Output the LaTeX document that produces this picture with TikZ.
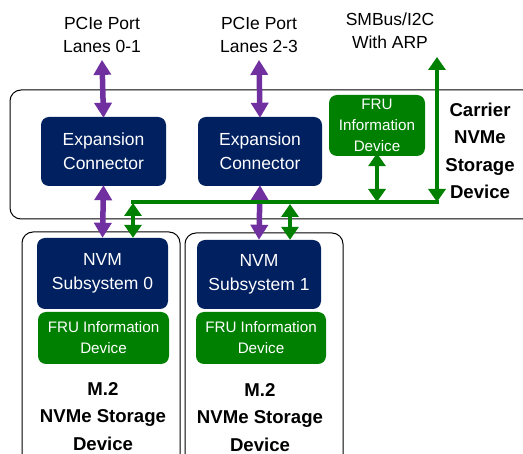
\documentclass[tikz,border=0pt]{standalone}
\usepackage{fontspec}
\setmainfont{Liberation Sans}
\usetikzlibrary{arrows.meta}
\definecolor{navy}{RGB}{0,32,96}
\definecolor{grn}{RGB}{0,128,0}
\definecolor{purp}{RGB}{112,48,160}
\tikzset{
  bluebox/.style={draw=none,fill=navy,rounded corners=8pt,text=white,align=center,
    font=\fontsize{17.5}{24}\selectfont,inner sep=0pt},
  greenbox/.style={draw=none,fill=grn,rounded corners=8pt,text=white,align=center,
    font=\fontsize{15.2}{21}\selectfont,inner sep=0pt},
  frame/.style={draw=black,line width=1pt,rounded corners=11pt},
  lbl/.style={align=center,font=\fontsize{17.5}{23}\selectfont,inner sep=0pt},
  boldlbl/.style={align=center,font=\bfseries\fontsize{18.6}{27.5}\selectfont,inner sep=0pt},
  parrow/.style={draw=purp,line width=5.5pt,{Triangle[width=17pt,length=15pt]}-{Triangle[width=17pt,length=15pt]}},
  garrow/.style={draw=grn,line width=4.5pt,{Triangle[width=17pt,length=13pt]}-{Triangle[width=17pt,length=13pt]}},
  gline/.style={draw=grn,line width=4.5pt},
}
\begin{document}
\begin{tikzpicture}[x=1pt,y=-1pt]
\useasboundingbox (0,0) rectangle (523,454);
% frames
\draw[frame] (10,90) rectangle (540,219);
\draw[frame] (22,232) rectangle (180,470);
\draw[frame] (185,233) rectangle (343,470);
% top labels
\node[lbl] (pcie1) at (102,35) {PCIe Port\\Lanes 0-1};
\node[lbl] (pcie2) at (259,35) {PCIe Port\\Lanes 2-3};
\node[lbl] (smb) at (390,31) {SMBus/I2C\\With ARP};
\node[boldlbl] (carrier) at (480,151) {Carrier\\NVMe\\Storage\\Device};
% carrier components
\node[bluebox,minimum width=125pt,minimum height=69pt] (ec1) at (103.5,151.5) {Expansion\\Connector};
\node[bluebox,minimum width=124pt,minimum height=69pt] (ec2) at (260,151.5) {Expansion\\Connector};
\node[greenbox,minimum width=96pt,minimum height=61pt] (frut) at (377,125.5) {FRU\\Information\\Device};
% M.2 components
\node[bluebox,minimum width=131pt,minimum height=71pt] (nvm0) at (102.5,273.5) {NVM\\Subsystem 0};
\node[greenbox,minimum width=131pt,minimum height=52pt] (fru0) at (103.5,338) {FRU Information\\Device};
\node[bluebox,minimum width=124pt,minimum height=69pt] (nvm1) at (259,274.5) {NVM\\Subsystem 1};
\node[greenbox,minimum width=130pt,minimum height=52pt] (fru1) at (261,338) {FRU Information\\Device};
\node[boldlbl] (m2a) at (103,416.5) {M.2\\NVMe Storage\\Device};
\node[boldlbl] (m2b) at (260,417.5) {M.2\\NVMe Storage\\Device};
% coordinates
\coordinate (smbtop) at (437,57);
\coordinate (busR) at (437,202);
\coordinate (busL) at (133,202);
\coordinate (busM) at (290,202);
% purple arrows
\draw[parrow] ([yshift=-7pt]pcie1.south) -- ([yshift=-1pt]ec1.north);
\draw[parrow] ([yshift=-7pt]pcie2.south) -- ([yshift=-1pt]ec2.north);
\draw[parrow] ([yshift=1pt]ec1.south) -- (nvm0.north);
\draw[parrow] ([yshift=1pt]ec2.south) -- (nvm1.north);
% green bus
\draw[gline] ([xshift=-2pt]busL) -- ([xshift=2pt]busR);
\draw[garrow] (smbtop) -- (busR);
\draw[garrow] ([yshift=3pt]frut.south) -- (frut.south |- busR);
\draw[garrow] ([yshift=-1pt]busL) -- (busL |- nvm0.north);
\draw[garrow] ([yshift=-2pt]busM) -- (busM |- nvm1.north);
\end{tikzpicture}
\end{document}
